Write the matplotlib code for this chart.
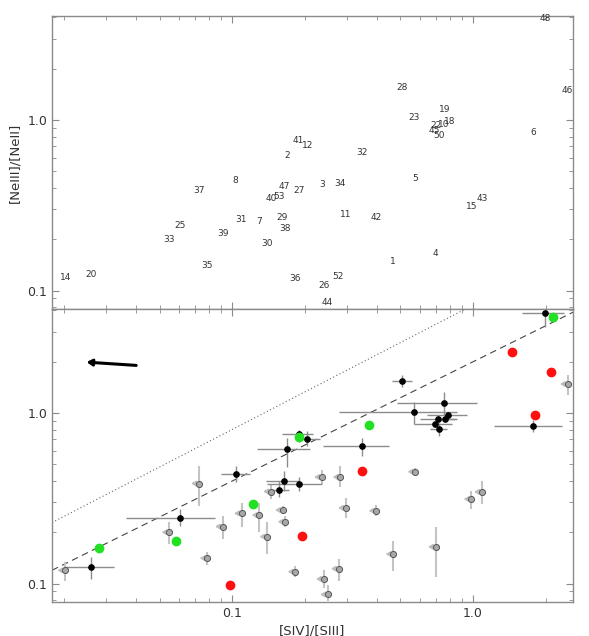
import numpy as np
import matplotlib
matplotlib.use('Agg')
import matplotlib.pyplot as plt

# ---------------- top panel: object ID labels ----------------
lab_ids = ['14', '20', '33', '25', '37', '35', '39', '8', '31', '7', '30', '40', '53', '47',
           '29', '38', '2', '36', '41', '12', '27', '3', '34', '11', '32', '42', '52', '26',
           '44', '1', '28', '23', '5', '19', '22', '10', '18', '45', '50', '4', '15', '43',
           '6', '48', '46']
lab_x = [0.0203, 0.0260, 0.0548, 0.0609, 0.0730, 0.0790, 0.0915, 0.103, 0.1086, 0.1298, 0.140,
         0.1448, 0.157, 0.164, 0.162, 0.1665, 0.1687, 0.182, 0.189, 0.205, 0.190, 0.236, 0.281,
         0.295, 0.345, 0.396, 0.276, 0.240, 0.249, 0.466, 0.506, 0.569, 0.574, 0.760, 0.702,
         0.758, 0.803, 0.689, 0.722, 0.698, 0.988, 1.087, 1.78, 1.99, 2.46]
lab_y = [0.119, 0.124, 0.199, 0.242, 0.388, 0.140, 0.217, 0.440, 0.260, 0.255, 0.189, 0.345,
         0.358, 0.408, 0.270, 0.230, 0.623, 0.1175, 0.759, 0.713, 0.386, 0.421, 0.425, 0.279,
         0.645, 0.268, 0.1215, 0.1066, 0.0855, 0.149, 1.56, 1.03, 0.454, 1.16, 0.932, 0.938,
         0.987, 0.865, 0.809, 0.164, 0.313, 0.347, 0.851, 3.93, 1.50]

# ---------------- bottom panel: detections (black) ----------------
blk_x = [0.0261, 0.0608, 0.104, 0.1696, 0.190, 0.205, 0.164, 0.190, 0.1567, 0.345, 0.506,
         0.567, 0.760, 0.790, 0.718, 0.764, 0.694, 0.721, 1.78, 1.984]
blk_xlo = [0.0203, 0.0363, 0.0898, 0.127, 0.161, 0.191, 0.1384, 0.1397, 0.144, 0.239, 0.461,
           0.278, 0.484, 0.644, 0.603, 0.70, 0.569, 0.663, 1.222, 1.597]
blk_xhi = [0.0324, 0.0850, 0.1188, 0.211, 0.217, 0.232, 0.190, 0.236, 0.1725, 0.448, 0.558,
           0.859, 1.039, 0.944, 0.859, 0.84, 0.818, 0.780, 2.35, 2.385]
blk_y = [0.1245, 0.242, 0.4375, 0.617, 0.757, 0.708, 0.402, 0.384, 0.356, 0.643, 1.542,
         1.018, 1.143, 0.973, 0.923, 0.926, 0.858, 0.803, 0.844, 3.85]
blk_ylo = [0.107, 0.218, 0.393, 0.480, 0.68, 0.645, 0.348, 0.348, 0.321, 0.558, 1.42,
           0.86, 0.977, 0.93, 0.89, 0.90, 0.83, 0.73, 0.77, 3.19]
blk_yhi = [0.1436, 0.273, 0.487, 0.718, 0.80, 0.78, 0.455, 0.42, 0.398, 0.718, 1.67,
           1.16, 1.33, 1.02, 0.96, 0.95, 0.89, 0.88, 0.91, 3.87]

# ---------------- bottom panel: upper limits in [SIV] (grey) ----------------
gry_x = [0.0203, 0.0549, 0.0728, 0.0915, 0.0790, 0.1097, 0.1298, 0.145, 0.1623, 0.1665, 0.140,
         0.1832, 0.2357, 0.2814, 0.2964, 0.397, 0.467, 0.700, 0.984, 1.087, 0.576, 2.47,
         0.277, 0.240, 0.250]
gry_y = [0.1195, 0.200, 0.386, 0.216, 0.1408, 0.258, 0.252, 0.3466, 0.270, 0.2306, 0.1886,
         0.1174, 0.4217, 0.4217, 0.278, 0.2673, 0.149, 0.1643, 0.313, 0.345, 0.453, 1.481,
         0.1223, 0.1065, 0.0863]
gry_ylo = [0.103, 0.170, 0.285, 0.182, 0.129, 0.215, 0.201, 0.313, 0.256, 0.215, 0.150,
           0.1097, 0.382, 0.367, 0.242, 0.249, 0.119, 0.110, 0.274, 0.2925, 0.4255, 1.28,
           0.104, 0.0938, 0.0788]
gry_yhi = [0.134, 0.230, 0.487, 0.248, 0.153, 0.296, 0.296, 0.382, 0.284, 0.248, 0.229,
           0.127, 0.465, 0.487, 0.317, 0.289, 0.178, 0.216, 0.347, 0.400, 0.479, 1.67,
           0.140, 0.1207, 0.0983]

# ---------------- bottom panel: green and red samples ----------------
grn_x = [0.0280, 0.0587, 0.1222, 0.190, 0.3713, 2.148]
grn_y = [0.1606, 0.1773, 0.2923, 0.725, 0.847, 3.65]
red_x = [0.098, 0.1946, 0.346, 1.456, 2.10, 1.808]
red_y = [0.0986, 0.1897, 0.455, 2.285, 1.747, 0.981]

# reference relations  y = A * x**B
dash_A, dash_B = 2.0, 0.70
dot_A, dot_B = 4.3, 0.73

# extinction vector
arrow_tail = (0.040, 1.904)
arrow_head = (0.0249, 1.99)

XLIM = (0.0179, 2.60)
YLIM = (0.078, 4.08)

AXCOL = '#8a8a8a'
TXTCOL = '#333333'

fig = plt.figure(figsize=(5.89, 6.36), dpi=100)
ax1 = fig.add_axes([0.0883, 0.5142, 0.8846, 0.4607])
ax2 = fig.add_axes([0.0883, 0.0535, 0.8846, 0.4607])

for ax in (ax1, ax2):
    ax.set_xscale('log')
    ax.set_yscale('log')
    ax.set_xlim(*XLIM)
    ax.set_ylim(*YLIM)
    for s in ax.spines.values():
        s.set_color(AXCOL)
        s.set_linewidth(1.0)
    ax.tick_params(which='both', direction='in', top=True, right=True, color=AXCOL,
                   labelcolor=TXTCOL, labelsize=9)
    ax.tick_params(which='major', length=5, width=0.8)
    ax.tick_params(which='minor', length=3, width=0.6)
    ax.set_yticks([0.1, 1.0])
    ax.set_yticklabels(['0.1', '1.0'])
    ax.set_xticks([0.1, 1.0])
    ax.set_xticklabels(['0.1', '1.0'])

ax1.tick_params(labelbottom=False)
ax1.set_ylabel('[NeIII]/[NeII]', fontsize=9.5, color=TXTCOL, labelpad=4)
ax2.set_xlabel('[SIV]/[SIII]', fontsize=9.5, color=TXTCOL, labelpad=3)

# top panel labels
for t, x, y in zip(lab_ids, lab_x, lab_y):
    ax1.text(x, y, t, fontsize=6.5, color=TXTCOL, ha='center', va='center')

# bottom panel lines
xx = np.logspace(np.log10(XLIM[0]), np.log10(XLIM[1]), 200)
ax2.plot(xx, dash_A * xx ** dash_B, ls=(0, (6, 4)), color='#444444', lw=0.8, zorder=1)
ax2.plot(xx, dot_A * xx ** dot_B, ls=(0, (1, 2.2)), color='#666666', lw=0.8, zorder=1)

# grey upper-limit points
gx = np.array(gry_x); gy = np.array(gry_y)
ax2.errorbar(gx, gy, yerr=[gy - np.array(gry_ylo), np.array(gry_yhi) - gy], fmt='none',
             ecolor='#c4c4c4', elinewidth=1.5, capsize=0, zorder=2)
for x, y in zip(gry_x, gry_y):
    ax2.annotate('', xy=(x * 10 ** (-0.032), y), xytext=(x, y),
                 arrowprops=dict(arrowstyle='-|>,head_length=0.25,head_width=0.15',
                                 color='#bdbdbd', lw=1.2, shrinkA=0, shrinkB=0), zorder=2)
ax2.plot(gx, gy, 'o', ms=4.4, mfc='#a8a8a8', mec='#555555', mew=0.7, ls='none', zorder=4)

# black detections
bx = np.array(blk_x); by = np.array(blk_y)
ax2.errorbar(bx, by, xerr=[bx - np.array(blk_xlo), np.array(blk_xhi) - bx],
             yerr=[by - np.array(blk_ylo), np.array(blk_yhi) - by], fmt='none',
             ecolor='#8c8c8c', elinewidth=1.0, capsize=0, zorder=3)
ax2.plot(bx, by, 'o', ms=3.8, color='black', ls='none', zorder=5)

# green and red
ax2.plot(grn_x, grn_y, 'o', ms=6.0, color='#22e022', ls='none', zorder=6)
ax2.plot(red_x, red_y, 'o', ms=6.0, color='#ff1010', ls='none', zorder=6)

# arrow
ax2.annotate('', xy=arrow_head, xytext=arrow_tail,
             arrowprops=dict(arrowstyle='-|>,head_length=0.3,head_width=0.18',
                             color='black', lw=2.2, shrinkA=0, shrinkB=0))

fig.savefig('out.png', dpi=100)
